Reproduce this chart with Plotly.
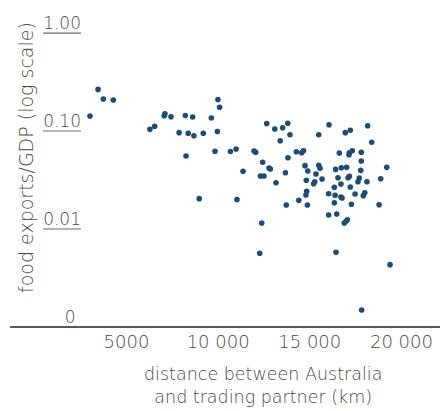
import plotly.graph_objects as go

# distance between Australia and trading partner (km)
distance_km = [
    3010, 3450, 3740, 4280, 6280, 6540, 7100, 7060, 7430, 8210,
    8610, 9630, 9990, 10080, 7870, 8370, 8680, 9190, 9960, 8250,
    9830, 10670, 10980, 11960, 12050, 11360, 12310, 12500, 8970, 11030,
    12650, 13090, 13520, 13800, 13920, 13390, 16050, 15490, 16940, 17210,
    18160, 18380, 12430, 12780, 12850, 13810, 13670, 13160, 14270, 14560,
    14660, 14740, 14890, 15490, 15560, 15340, 15670, 14810, 15270, 15210,
    14830, 14790, 14400, 13720, 14870, 12380, 16610, 17140, 17160, 17320,
    17810, 17810, 16410, 16720, 17010, 17780, 19200, 16540, 16700, 17090,
    17160, 17700, 17630, 18120, 18870, 16340, 17210, 16030, 16380, 16700,
    16760, 17470, 18000, 17920, 16340, 17270, 18780, 16030, 16470, 16880,
    16980, 17050, 12270, 16430, 19380, 17830,
]

# food exports / GDP
food_exports_gdp = [
    0.142, 0.266, 0.212, 0.207, 0.104, 0.112, 0.150, 0.143, 0.140, 0.144,
    0.139, 0.136, 0.210, 0.175, 0.0962, 0.0948, 0.0895, 0.0948, 0.0989, 0.0556,
    0.0621, 0.0618, 0.0655, 0.0625, 0.0607, 0.0388, 0.0348, 0.0348, 0.0204, 0.0200,
    0.119, 0.105, 0.108, 0.120, 0.0916, 0.0796, 0.116, 0.0916, 0.0962, 0.102,
    0.113, 0.0768, 0.0480, 0.0419, 0.0409, 0.0534, 0.0375, 0.0297, 0.0615, 0.0601,
    0.0630, 0.0443, 0.0391, 0.0447, 0.0416, 0.0364, 0.0324, 0.0314, 0.0304, 0.0290,
    0.0243, 0.0222, 0.0196, 0.0176, 0.0176, 0.0115, 0.0596, 0.0573, 0.0601, 0.0630,
    0.0607, 0.0494, 0.0406, 0.0422, 0.0426, 0.0397, 0.0426, 0.0334, 0.0288, 0.0334,
    0.0345, 0.0331, 0.0304, 0.0304, 0.0326, 0.0266, 0.0268, 0.0229, 0.0221, 0.0212,
    0.0207, 0.0228, 0.0234, 0.0219, 0.0185, 0.0179, 0.0177, 0.0139, 0.0142, 0.0115,
    0.0120, 0.0124, 0.00565, 0.00578, 0.00433, 0.00149,
]

x_tickvals = [5000, 10000, 15000, 20000]
x_ticktext = ["5000", "10 000", "15 000", "20 000"]
y_tickvals = [1.0, 0.1, 0.01, 0.001]
y_ticktext = ["1.00", "0.10", "0.01", "0\u00a0"]
underlined_ticks = [1.0, 0.1, 0.01]

FONT = "DejaVu Sans"
WEIGHT = 200
TXT = "#4a4a4a"
DOT = "#1f4d72"

W, H = 446, 411
ML, MR, MT, MB = 82, 6, 10, 84
plot_w = W - ML - MR
plot_h = H - MT - MB

def f(size):
    return dict(family=FONT, size=size, color=TXT, weight=WEIGHT)

fig = go.Figure()
fig.add_trace(go.Scatter(
    x=distance_km, y=food_exports_gdp, mode="markers",
    marker=dict(size=5.6, color=DOT, line=dict(width=0)),
    showlegend=False,
))

shapes = []
# x axis line extending to the left beyond the plot area
shapes.append(dict(type="line", xref="paper", yref="paper",
                   x0=(10 - ML) / plot_w, x1=1, y0=0, y1=0,
                   line=dict(color="#222222", width=1.5)))
for v in underlined_ticks:
    shapes.append(dict(type="line", xref="paper", yref="y",
                       x0=(43 - ML) / plot_w, x1=(81 - ML) / plot_w, y0=v, y1=v,
                       line=dict(color="#6a6a6a", width=1.2)))

fig.update_layout(
    width=W, height=H,
    margin=dict(l=ML, r=MR, t=MT, b=MB, pad=0),
    paper_bgcolor="white", plot_bgcolor="white",
    font=f(17),
    shapes=shapes,
    xaxis=dict(range=[2575, 22104], tickvals=x_tickvals, ticktext=x_ticktext,
               showgrid=False, zeroline=False, showline=False, ticks="",
               ticklabelstandoff=2,
               tickfont=f(18)),
    yaxis=dict(type="log", range=[-3, 0.235], tickvals=y_tickvals, ticktext=y_ticktext,
               showgrid=False, zeroline=False, showline=False, ticks="",
               ticklabelshift=-10, ticklabelstandoff=0,
               tickfont=f(17)),
    annotations=[
        dict(text="food exports/GDP (log scale)", textangle=-90,
             xref="paper", yref="paper", x=(26 - ML) / plot_w, y=1 - (158 - MT) / plot_h,
             xanchor="center", yanchor="middle", showarrow=False,
             font=f(19)),
        dict(text="distance between Australia<br>and trading partner (km)",
             xref="paper", yref="paper", x=(263 - ML) / plot_w, y=-(362 - (H - MB)) / plot_h,
             xanchor="center", yanchor="top", showarrow=False, align="center",
             font=f(17.5)),
    ],
)

fig.write_html("out.html")
